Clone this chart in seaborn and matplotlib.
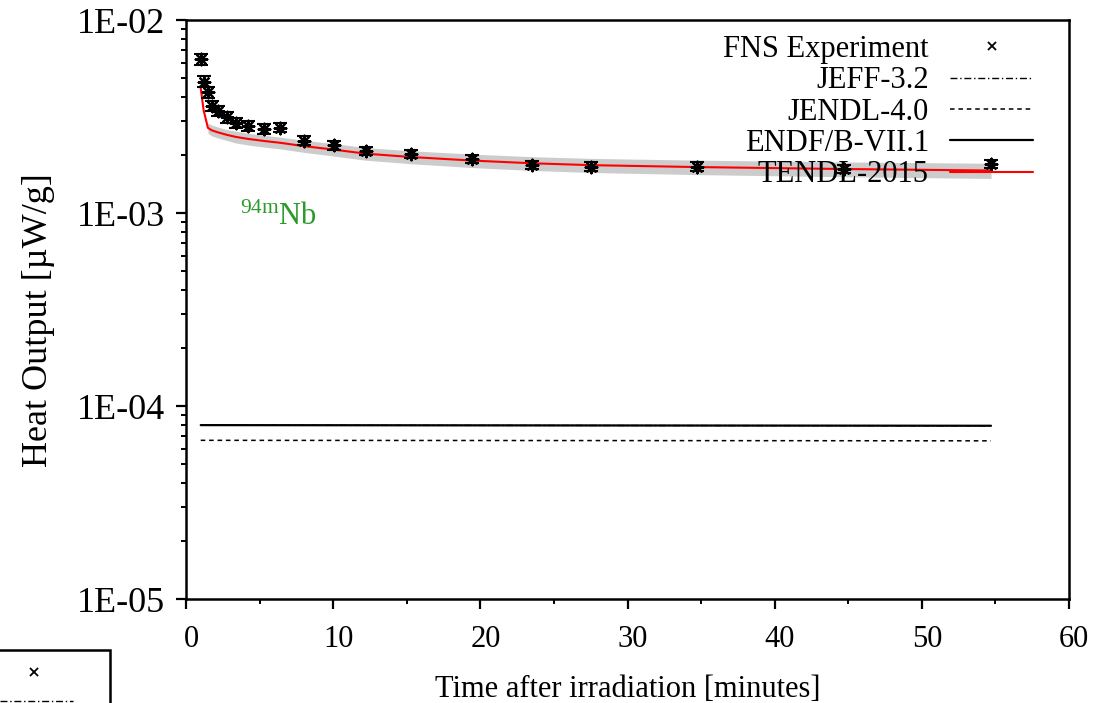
import numpy as np
import pandas as pd
import matplotlib
matplotlib.use("Agg")
import matplotlib.pyplot as plt
from matplotlib.lines import Line2D
from matplotlib.patches import Rectangle
from matplotlib.transforms import ScaledTranslation
from matplotlib.ticker import FixedLocator, FixedFormatter, LogLocator, MultipleLocator, NullFormatter
import seaborn as sns

# Cooling times of the measurements [minutes]
time_min = [1.0, 1.2, 1.49, 1.76, 2.15, 2.78, 3.37, 4.23, 5.33, 6.42, 8.02,
            10.05, 12.2, 15.3, 19.4, 23.5, 27.5, 34.7, 44.7, 54.7]
# FNS measured heat output [uW/g] and relative uncertainty
fns_exp = [6.28e-3, 4.80e-3, 4.22e-3, 3.59e-3, 3.38e-3, 3.13e-3, 2.94e-3,
           2.83e-3, 2.73e-3, 2.77e-3, 2.37e-3, 2.24e-3, 2.10e-3, 2.02e-3,
           1.91e-3, 1.78e-3, 1.74e-3, 1.74e-3, 1.69e-3, 1.80e-3]
fns_rel_err = [0.065, 0.065, 0.065, 0.06, 0.06, 0.06, 0.06, 0.055, 0.055,
               0.055, 0.055, 0.05, 0.05, 0.05, 0.05, 0.05, 0.05, 0.05, 0.05, 0.05]
# TENDL-2015 calculation and its relative uncertainty band
tendl_2015 = [4.43e-3, 3.40e-3, 2.76e-3, 2.68e-3, 2.62e-3, 2.54e-3, 2.48e-3,
              2.42e-3, 2.36e-3, 2.31e-3, 2.22e-3, 2.13e-3, 2.03e-3, 1.95e-3,
              1.87e-3, 1.81e-3, 1.77e-3, 1.73e-3, 1.69e-3, 1.66e-3]
tendl_rel_unc = [0.06, 0.06, 0.06, 0.065, 0.065, 0.065, 0.07, 0.07, 0.07,
                 0.07, 0.072, 0.074, 0.075, 0.077, 0.08, 0.082, 0.084, 0.086,
                 0.088, 0.09]
# Other libraries (nearly constant over the cooling range)
lib_times = [1.0, 54.7]
endf_b71 = [7.96e-5, 7.90e-5]
jeff_32 = [7.95e-5, 7.90e-5]
jendl_40 = [6.64e-5, 6.60e-5]

y_ticks = [1e-5, 1e-4, 1e-3, 1e-2]
y_tick_labels = ["1E-05", "1E-04", "1E-03", "1E-02"]
x_ticks = [0, 10, 20, 30, 40, 50, 60]

sns.set_theme(style="ticks")
plt.rcParams["font.family"] = ["Liberation Serif", "DejaVu Serif"]
plt.rcParams["text.color"] = "black"
plt.rcParams["axes.labelcolor"] = "black"
plt.rcParams["mathtext.fontset"] = "custom"
plt.rcParams["mathtext.rm"] = "Liberation Serif"
plt.rcParams["mathtext.it"] = "Liberation Serif:italic"

fs = 22
fs_y = 26
fig = plt.figure(figsize=(11.06, 7.03), dpi=100)
ax = fig.add_axes([186 / 1106, 1 - 599 / 703, (1069 - 186) / 1106, (599 - 20) / 703])

df = pd.DataFrame({
    "t": time_min, "fns": fns_exp, "tendl": tendl_2015,
})
df["err"] = df["fns"] * np.array(fns_rel_err)
df["lo"] = df["tendl"] * (1 - np.array(tendl_rel_unc))
df["hi"] = df["tendl"] * (1 + np.array(tendl_rel_unc))

lib = pd.DataFrame({"t": lib_times, "endf": endf_b71, "jeff": jeff_32, "jendl": jendl_40})

# uncertainty band of TENDL-2015 (shown from the end of the initial drop)
band = df.iloc[2:]
ax.fill_between(band["t"], band["lo"], band["hi"], color="#cccccc", lw=0, zorder=1)
sns.lineplot(data=df, x="t", y="tendl", ax=ax, color="red", lw=1.5,
             estimator=None, sort=False, zorder=3)
sns.lineplot(data=lib, x="t", y="endf", ax=ax, color="black", lw=1.6,
             estimator=None, sort=False, zorder=2)
sns.lineplot(data=lib, x="t", y="jeff", ax=ax, color="black", lw=1.0,
             estimator=None, sort=False, zorder=2, linestyle=(0, (5, 2, 1, 2)))
sns.lineplot(data=lib, x="t", y="jendl", ax=ax, color="black", lw=1.1,
             estimator=None, sort=False, zorder=2, linestyle=(0, (3, 2.5)))

# measured points with error bars
ax.errorbar(df["t"], df["fns"], yerr=df["err"], fmt="none", ecolor="black",
            elinewidth=1.5, capsize=5, capthick=1.5, zorder=4)
sns.scatterplot(data=df, x="t", y="fns", ax=ax, marker=(8, 2, 0), s=70,
                color="black", linewidth=1.6, zorder=5)

ax.set_yscale("log")
ax.set_ylim(1e-5, 1e-2)
ax.set_xlim(0, 60)
ax.yaxis.set_major_locator(FixedLocator(y_ticks))
ax.yaxis.set_major_formatter(FixedFormatter(y_tick_labels))
ax.yaxis.set_minor_locator(LogLocator(base=10, subs=np.arange(2, 10)))
ax.yaxis.set_minor_formatter(NullFormatter())
ax.xaxis.set_major_locator(FixedLocator(x_ticks))
ax.xaxis.set_minor_locator(MultipleLocator(5))

for s in ax.spines.values():
    s.set_linewidth(1.8)
    s.set_color("black")
ax.tick_params(which="major", direction="out", length=7, width=1.6,
               colors="black", pad=8)
ax.tick_params(which="minor", direction="out", length=3.5, width=1.4, colors="black")
ax.tick_params(axis="x", which="major", pad=12, labelsize=fs)
ax.tick_params(axis="y", which="major", labelsize=fs_y)

# x tick labels sit slightly right of their ticks
for lab in ax.get_xticklabels():
    lab.set_transform(lab.get_transform() + ScaledTranslation(5 / 100, 0, fig.dpi_scale_trans))

ax.set_xlabel("Time after irradiation [minutes]", fontsize=fs, color="black", labelpad=15)
ax.set_ylabel("Heat Output [µW/g]", fontsize=fs_y, color="black", labelpad=16)
ax.yaxis.label.set_y(0.482)

ax.text(3.67, 8.67e-4, r"$^{\mathrm{94m}}$Nb", color="#2a9a2a", fontsize=fs,
        ha="left", va="baseline")

handles = [
    Line2D([], [], ls="none", marker="x", color="black", markersize=6, mew=1.3),
    Line2D([], [], color="black", lw=1.0, ls=(0, (5, 2, 1, 2))),
    Line2D([], [], color="black", lw=1.1, ls=(0, (3, 2.5))),
    Line2D([], [], color="black", lw=1.6),
    Line2D([], [], color="red", lw=1.5),
]
labels = ["FNS Experiment", "JEFF-3.2", "JENDL-4.0", "ENDF/B-VII.1", "TENDL-2015"]
leg = ax.legend(handles, labels, loc="upper right", markerfirst=False, frameon=False,
                fontsize=fs, handlelength=2.7, handletextpad=0.7, labelspacing=0.075,
                borderpad=0, borderaxespad=0, bbox_to_anchor=(0.959, 0.974))
for t in leg.get_texts():
    t.set_color("black")

# stray key box at the lower left corner of the page
fig.patches.append(Rectangle((-10 / 1106, 1 - 720 / 703), 120 / 1106, 70 / 703,
                             transform=fig.transFigure, fill=False,
                             edgecolor="black", lw=1.8))
fig.lines.append(Line2D([34 / 1106], [1 - 672 / 703], transform=fig.transFigure,
                        ls="none", marker="x", color="black", markersize=6, mew=1.3))
fig.lines.append(Line2D([0, 73 / 1106], [1 - 701 / 703] * 2, transform=fig.transFigure,
                        color="black", lw=1.0, ls=(0, (5, 2, 1, 2))))

fig.savefig("out.png", dpi=100)
